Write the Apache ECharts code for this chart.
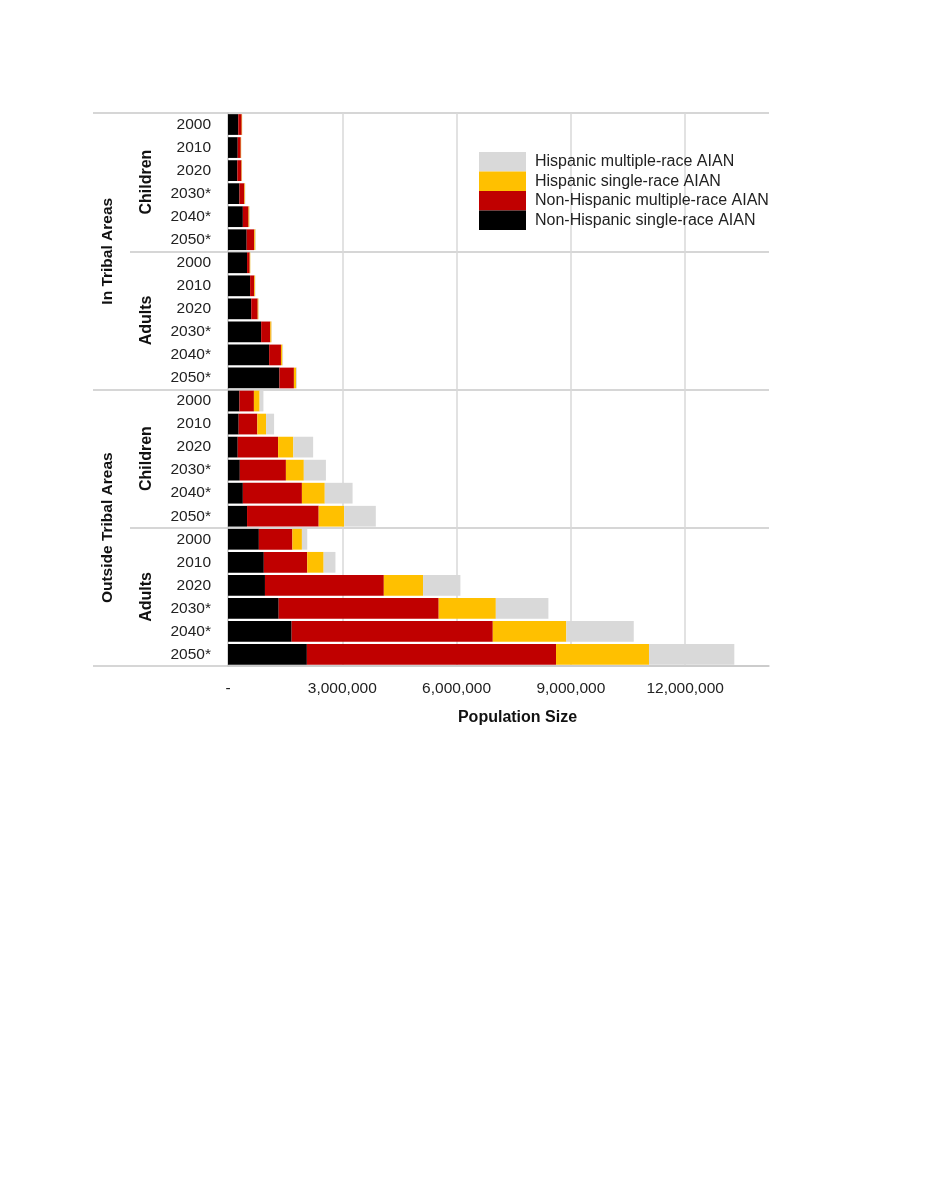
<!DOCTYPE html>
<html lang="en">
<head>
  <meta charset="UTF-8">
  <script src="https://cdn.jsdelivr.net/npm/echarts@6/dist/echarts.min.js"></script>
  <style>
    html, body { margin: 0; padding: 0; width: 100%; height: 100%; background: #fff; overflow: hidden; }
    #main { width: 927px; height: 1200px; }
  </style>
</head>
<body>
  <div id="main"></div>
  <script>
    // rows: In Tribal (Children, Adults), Outside Tribal (Children, Adults), years 2000..2050
    var years = ['2000', '2010', '2020', '2030*', '2040*', '2050*'];
    var ageGroups = ['Children', 'Adults', 'Children', 'Adults'];
    var areaGroups = ['In Tribal Areas', 'Outside Tribal Areas'];
    var seriesNames = [
      'Non-Hispanic single-race AIAN',
      'Non-Hispanic multiple-race AIAN',
      'Hispanic single-race AIAN',
      'Hispanic multiple-race AIAN'
    ];
    var nhSingle = [
      270000, 255000, 245000, 300000, 390000, 490000,
      500000, 580000, 610000, 870000, 1080000, 1350000,
      300000, 280000, 255000, 310000, 390000, 500000,
      810000, 940000, 970000, 1330000, 1670000, 2070000
    ];
    var nhMulti = [
      90000, 80000, 110000, 130000, 150000, 200000,
      70000, 110000, 170000, 240000, 310000, 380000,
      380000, 490000, 1060000, 1210000, 1550000, 1880000,
      880000, 1140000, 3120000, 4200000, 5280000, 6540000
    ];
    var hSingle = [
      10000, 10000, 10000, 15000, 20000, 30000,
      15000, 20000, 20000, 30000, 40000, 60000,
      150000, 230000, 400000, 470000, 600000, 670000,
      250000, 430000, 1030000, 1500000, 1930000, 2440000
    ];
    var hMulti = [
      5000, 5000, 5000, 10000, 10000, 15000,
      5000, 10000, 10000, 10000, 15000, 20000,
      100000, 210000, 520000, 580000, 730000, 830000,
      140000, 310000, 980000, 1380000, 1770000, 2240000
    ];
    var xTicks = [3000000, 6000000, 9000000, 12000000];

    var colors = ['#000000', '#C00000', '#FFC000', '#D9D9D9'];
    var values = [nhSingle, nhMulti, hSingle, hMulti];

    // unique category keys, label shows the year only
    var rows = [];
    ageGroups.forEach(function (g, gi) {
      years.forEach(function (y) { rows.push(gi + '|' + y); });
    });

    var font = '"Liberation Sans", Arial, sans-serif';
    var lineGray = '#c9c9c9';

    var chart = echarts.init(document.getElementById('main'));

    var series = seriesNames.map(function (name, i) {
      var s = {
        name: name,
        type: 'bar',
        stack: 'total',
        barCategoryGap: '10%',
        itemStyle: { color: colors[i] },
        data: values[i],
        animation: false
      };
      if (i === 0) {
        s.markLine = {
          silent: true,
          symbol: 'none',
          label: { show: false },
          lineStyle: { color: '#d9d9d9', width: 1.5, type: 'solid' },
          data: xTicks.map(function (v) { return { xAxis: v }; }),
          z: 0
        };
      }
      return s;
    });

    var option = {
      backgroundColor: '#ffffff',
      textStyle: { fontFamily: font },
      grid: { left: 228, right: 158, top: 113, bottom: 534, containLabel: false },
      legend: {
        orient: 'vertical',
        left: 479,
        top: 152,
        padding: 0,
        itemWidth: 47,
        itemHeight: 19.5,
        itemGap: 0,
        icon: 'rect',
        selectedMode: false,
        data: seriesNames.slice().reverse(),
        textStyle: { fontSize: 16, color: '#222', fontFamily: font, padding: [0, 0, 0, 4] }
      },
      xAxis: {
        type: 'value',
        min: 0,
        max: 14200000,
        interval: 1000000,
        axisLine: { show: true, lineStyle: { color: lineGray, width: 1.5 } },
        axisTick: { show: false },
        splitLine: { show: false },
        axisLabel: {
          fontSize: 15.5,
          color: '#222',
          margin: 15,
          showMaxLabel: false,
          formatter: function (v) {
            if (v === 0) return '-';
            if (v % 3000000 !== 0) return '';
            return v.toLocaleString('en-US');
          }
        },
        name: 'Population Size',
        nameLocation: 'middle',
        nameGap: 44,
        nameTextStyle: { fontSize: 16, fontWeight: 'bold', color: '#111', padding: [0, 0, 0, 38] }
      },
      yAxis: [
        {
          type: 'category',
          inverse: true,
          data: rows,
          axisLine: { show: true, lineStyle: { color: lineGray, width: 1.5 } },
          axisTick: { show: false },
          axisLabel: {
            fontSize: 15.5,
            color: '#222',
            margin: 17,
            formatter: function (v) { return v.split('|')[1]; }
          }
        },
        {
          type: 'category',
          inverse: true,
          position: 'left',
          data: ageGroups.map(function (g, i) { return i + '|' + g; }),
          axisLine: { show: false },
          axisTick: { show: true, length: 98, lineStyle: { color: lineGray, width: 1.5 } },
          splitLine: { show: true, lineStyle: { color: lineGray, width: 1.5 } },
          axisLabel: {
            rotate: 90,
            fontSize: 16,
            fontWeight: 'bold',
            color: '#111',
            margin: 73,
            formatter: function (v) { return v.split('|')[1]; }
          }
        },
        {
          type: 'category',
          inverse: true,
          position: 'left',
          data: areaGroups,
          axisLine: { show: false },
          axisTick: { show: true, length: 135, lineStyle: { color: lineGray, width: 1.5 } },
          splitLine: { show: false },
          axisLabel: {
            rotate: 90,
            fontSize: 15.5,
            fontWeight: 'bold',
            color: '#111',
            margin: 112
          }
        }
      ],
      series: series
    };

    chart.setOption(option);
  </script>
</body>
</html>
